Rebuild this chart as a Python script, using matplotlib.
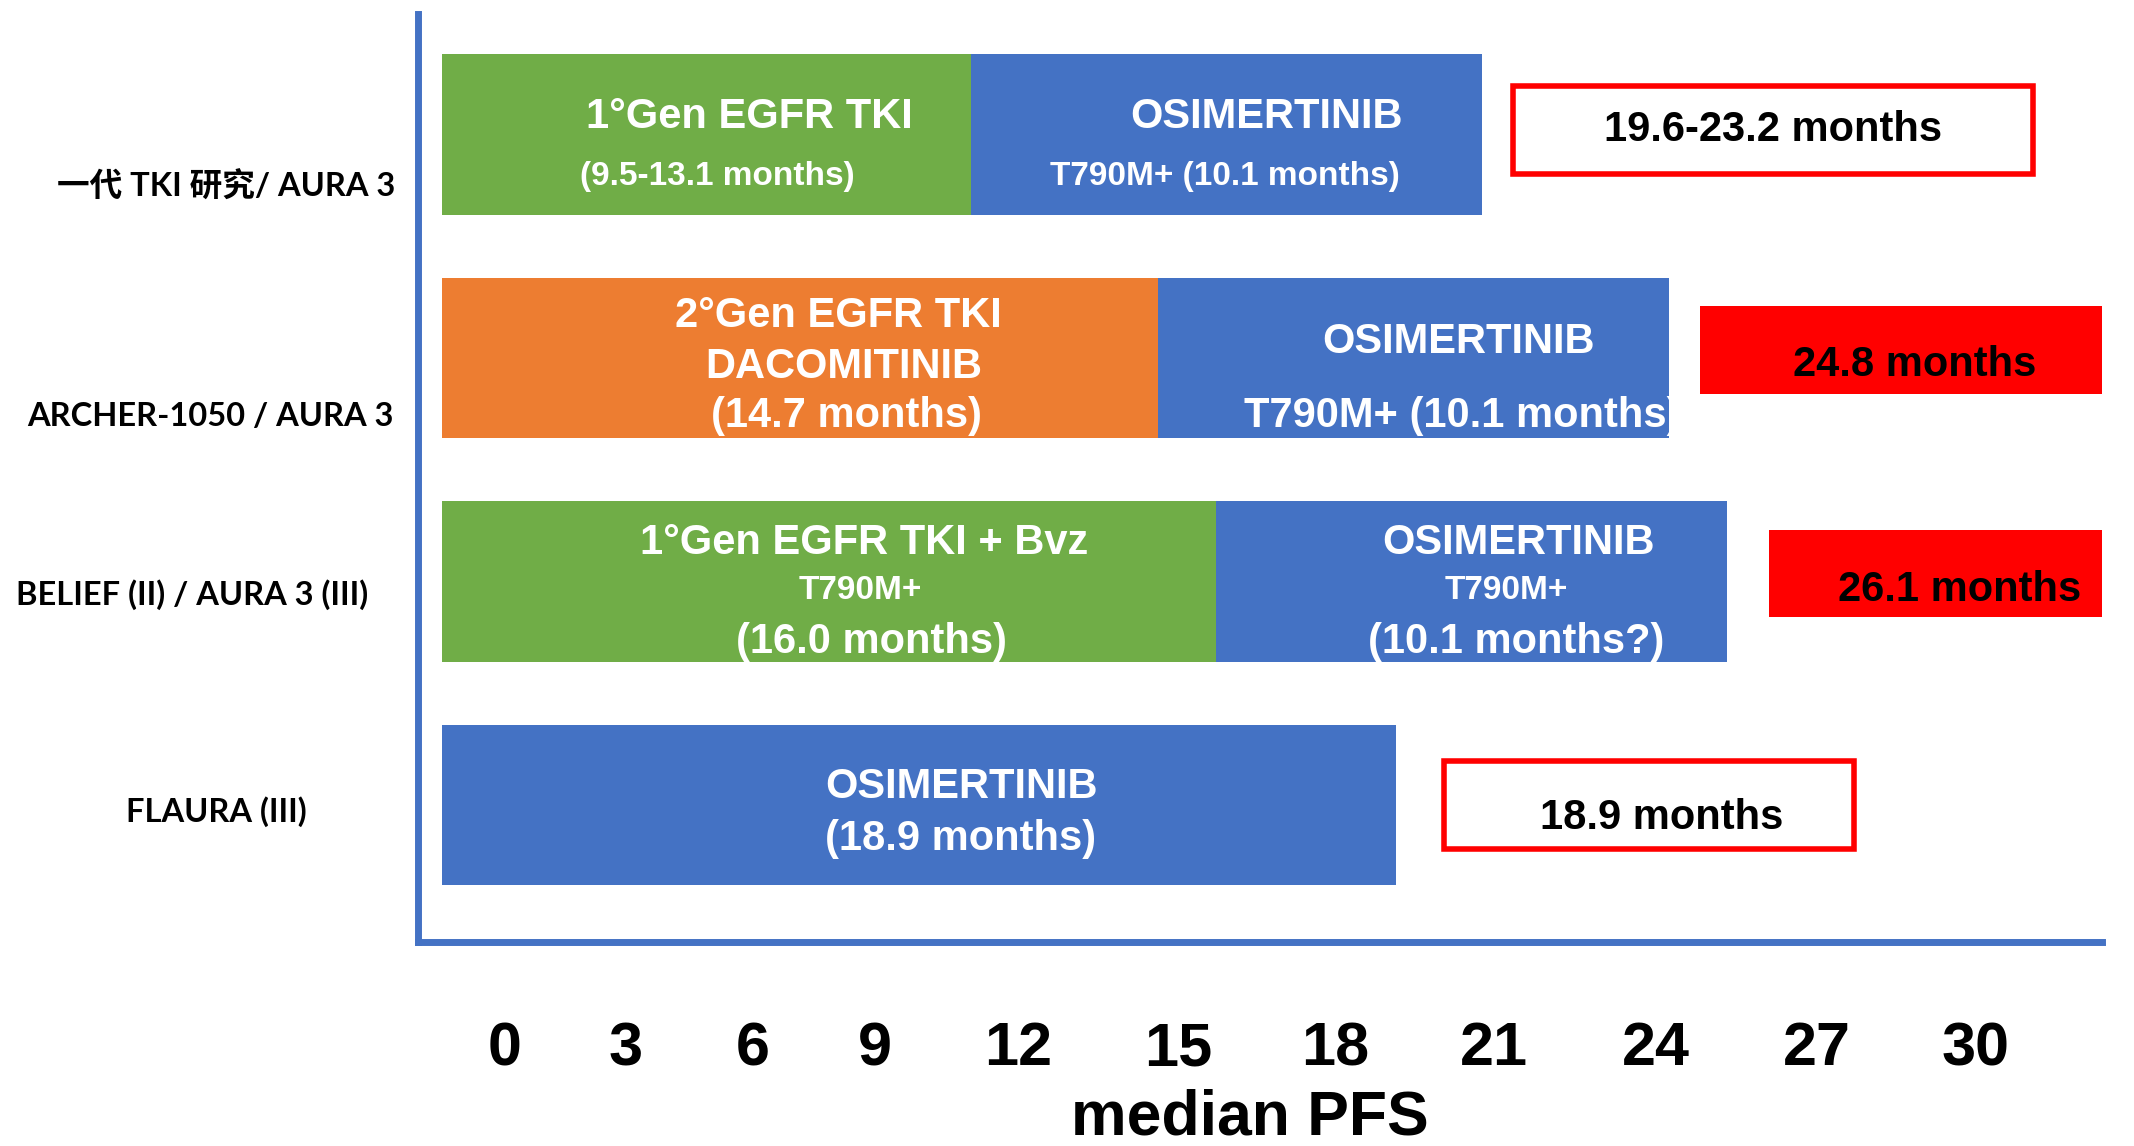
import matplotlib.pyplot as plt
from matplotlib.patches import Rectangle

# rows, top to bottom
STUDIES = ["一代 TKI 研究/ AURA 3", "ARCHER-1050 / AURA 3",
           "BELIEF (II) / AURA 3 (III)", "FLAURA (III)"]
FIRST_PFS = [10.45, 14.15, 15.3, 18.85]    # months, length of first segment as drawn
OSI_PFS = [10.1, 10.1, 10.1, 0.0]          # second-line osimertinib segment
FIRST_COLORS = ["#70AD47", "#ED7D31", "#70AD47", "#4472C4"]
OSI_COLOR = "#4472C4"

TOTAL_LABELS = ["19.6-23.2 months", "24.8 months", "26.1 months", "18.9 months"]
TOTAL_FILLED = [False, True, True, False]

TICK_LABELS = ["0", "3", "6", "9", "12", "15", "18", "21", "24", "27", "30"]

# (row, segment, text) - segment 0 = first bar piece, 1 = osimertinib piece
BAR_TEXTS = [
    (0, 0, "1°Gen EGFR TKI"), (0, 0, "(9.5-13.1 months)"),
    (0, 1, "OSIMERTINIB"), (0, 1, "T790M+ (10.1 months)"),
    (1, 0, "2°Gen EGFR TKI"), (1, 0, "DACOMITINIB"), (1, 0, "(14.7 months)"),
    (1, 1, "OSIMERTINIB"), (1, 1, "T790M+ (10.1 months)"),
    (2, 0, "1°Gen EGFR TKI + Bvz"), (2, 0, "T790M+"), (2, 0, "(16.0 months)"),
    (2, 1, "OSIMERTINIB"), (2, 1, "T790M+"), (2, 1, "(10.1 months?)"),
    (3, 0, "OSIMERTINIB"), (3, 0, "(18.9 months)"),
]

# ---- layout (not data) ----
BAR_H = 0.72
# x centre (months), y offset from row centre, font size for each BAR_TEXTS entry
BAR_TEXT_POS = [
    (6.07, -0.08, 30), (5.44, 0.19, 24),
    (16.3, -0.08, 30), (15.47, 0.19, 24),
    (7.83, -0.19, 30), (7.94, 0.04, 30), (8.0, 0.26, 30),
    (20.1, -0.07, 30), (20.17, 0.26, 30),
    (8.34, -0.17, 30), (8.28, 0.04, 24), (8.5, 0.27, 30),
    (21.28, -0.17, 30), (21.04, 0.04, 24), (21.23, 0.27, 30),
    (10.28, -0.08, 30), (10.25, 0.15, 30),
]
BOX_X0 = [21.17, 24.86, 26.23, 19.8]
BOX_W = [10.28, 9.0, 9.0, 8.1]
BOX_DY = [-0.02, -0.036, -0.036, 0.0]
BOX_H = 0.39
BOX_TEXT = [(26.3, -0.02), (29.1, 0.03), (30.0, 0.04), (24.1, 0.06)]
TICK_POS = [1.25, 3.64, 6.14, 8.56, 11.4, 14.56, 17.66, 20.79, 24.0, 27.17, 30.32]
LABEL_POS = [(-0.114, 0.23), (-0.123, 0.26), (-0.134, 0.06), (-0.12, 0.03)]

plt.rcParams["font.family"] = ["Liberation Sans", "Noto Sans CJK SC"]

fig = plt.figure(figsize=(21.34, 11.46), dpi=100)
ax = fig.add_axes([418 / 2134, 1 - 942 / 1146, 1684 / 2134, 928 / 1146])

rows = list(range(len(STUDIES)))
first = ax.barh(rows, FIRST_PFS, height=BAR_H, color=FIRST_COLORS, linewidth=0)
second = ax.barh(rows, OSI_PFS, left=FIRST_PFS, height=BAR_H, color=OSI_COLOR, linewidth=0)
segments = [first.patches, second.patches]

for (row, seg, txt), (x, dy, size) in zip(BAR_TEXTS, BAR_TEXT_POS):
    t = ax.text(x, row + dy, txt, color="white", fontsize=size, fontweight="bold",
                ha="center", va="center")
    t.set_clip_path(segments[seg][row])

for i, row in enumerate(rows):
    ax.add_patch(Rectangle((BOX_X0[i], row + BOX_DY[i] - BOX_H / 2), BOX_W[i], BOX_H,
                           facecolor="#FF0000" if TOTAL_FILLED[i] else "white",
                           edgecolor="#FF0000", linewidth=0 if TOTAL_FILLED[i] else 4))
    bx, bdy = BOX_TEXT[i]
    ax.text(bx, row + bdy, TOTAL_LABELS[i], color="black", fontsize=30,
            fontweight="bold", ha="center", va="center")
    lx, ldy = LABEL_POS[i]
    ax.text(lx, row + ldy, STUDIES[i], transform=ax.get_yaxis_transform(),
            family=["Lato", "Noto Sans CJK SC"], fontsize=23.5, fontweight="bold",
            ha="center", va="center", clip_on=False)

ax.set_xlim(-0.47, 32.81)
ax.set_ylim(3.613, -0.539)
ax.set_yticks([])
ax.set_xticks(TICK_POS, TICK_LABELS, fontsize=44, fontweight="bold")
ax.tick_params(axis="x", length=0, pad=57)
ax.set_xlabel("median PFS", fontsize=45, fontweight="bold")
ax.xaxis.set_label_coords(0.494, -0.207)
ax.xaxis.label.set_va("baseline")

for side in ["top", "right"]:
    ax.spines[side].set_visible(False)
for side in ["left", "bottom"]:
    ax.spines[side].set_color("#4472C4")
    ax.spines[side].set_linewidth(5)

fig.savefig("out.png", dpi=100)
